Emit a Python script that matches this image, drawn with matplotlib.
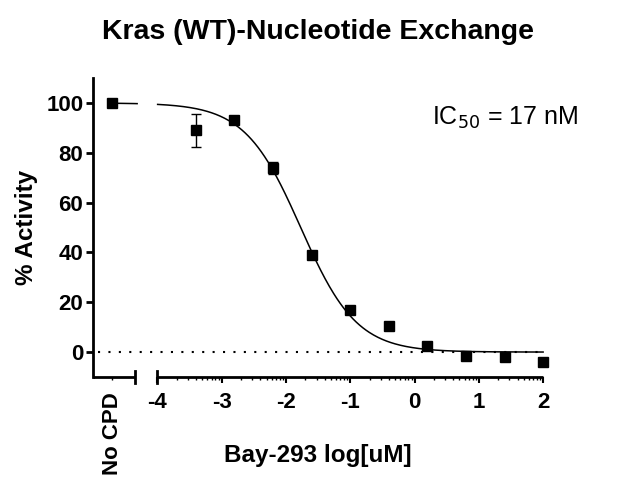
import numpy as np
import matplotlib

matplotlib.use("Agg")
import matplotlib.pyplot as plt

# Bay-293 dose response, Kras (WT) nucleotide exchange
log_conc = [-3.4, -2.8, -2.2, -1.6, -1.0, -0.4, 0.2, 0.8, 1.4, 2.0]
activity = [89.0, 93.2, 73.8, 38.8, 17.0, 10.3, 2.6, -1.5, -2.0, -3.8]
activity_err = [6.5, 0.8, 2.5, 1.0, 1.0, 1.5, 0.6, 0.6, 0.8, 0.6]
no_cpd_pos = -4.7
no_cpd_value = 100.0

# fitted 4PL parameters
fit_top = 100.0
fit_bottom = 0.0
fit_log_ic50 = -1.77
fit_hill = 1.0

x_ticks = [-4, -3, -2, -1, 0, 1, 2]
y_ticks = [0, 20, 40, 60, 80, 100]
break_left = -4.34
break_right = -4.0
x_min, x_max = -5.0, 2.0

plt.rcParams["font.family"] = ["Liberation Sans", "DejaVu Sans"]
plt.rcParams["axes.unicode_minus"] = False

fig = plt.figure(figsize=(6.2, 4.87), dpi=100)
ax = fig.add_axes([0.150, 0.2259, 0.726, 0.6139])

# fitted curve on both sides of the axis break
xs = np.linspace(no_cpd_pos, x_max, 400)
ys = fit_bottom + (fit_top - fit_bottom) / (1 + 10 ** ((xs - fit_log_ic50) * fit_hill))
ys = np.where((xs > break_left + 0.03) & (xs < break_right), np.nan, ys)
ax.plot(xs, ys, color="black", lw=1.1, clip_on=False)

ax.axhline(0, color="black", lw=1.5, linestyle=(0, (1, 4)), xmin=0.01)

ax.errorbar(log_conc, activity, yerr=activity_err, fmt="s", color="black",
            ms=7, capsize=3.5, elinewidth=1, capthick=1, clip_on=False, zorder=3)
ax.plot([no_cpd_pos], [no_cpd_value], "s", color="black", ms=7, clip_on=False, zorder=3)

ax.set_xlim(x_min, x_max)
ax.set_ylim(-10, 110)

for side in ["top", "right", "bottom"]:
    ax.spines[side].set_visible(False)
ax.spines["left"].set_linewidth(2)

# broken x axis drawn by hand
trans = ax.get_xaxis_transform()
ax.plot([x_min, break_left], [0, 0], color="black", lw=2, transform=trans, clip_on=False,
        solid_capstyle="butt")
ax.plot([break_right, x_max], [0, 0], color="black", lw=2, transform=trans, clip_on=False,
        solid_capstyle="butt")
for bx in [break_left, break_right]:
    ax.plot([bx, bx], [-0.02, 0.02], color="black", lw=2, transform=trans, clip_on=False)

minor = [d + np.log10(m) for d in range(-4, 2) for m in range(2, 10)]
ax.set_xticks(x_ticks)
ax.set_xticks(minor + [no_cpd_pos], minor=True)
ax.set_yticks(y_ticks)
ax.tick_params(axis="x", which="major", length=4, width=1.5, pad=7, labelsize=16)
ax.tick_params(axis="x", which="minor", length=2, width=1)
ax.tick_params(axis="y", length=5, width=2, pad=2, labelsize=16)
for lab in ax.get_xticklabels() + ax.get_yticklabels():
    lab.set_fontweight("bold")

ax.text(no_cpd_pos, -0.05, "No CPD", transform=trans, rotation=90, ha="center", va="top",
        fontsize=16, fontweight="bold")

ax.set_xlabel("Bay-293 log[uM]", fontsize=17.5, fontweight="bold")
ax.xaxis.set_label_coords(0.5, -0.225)
ax.set_ylabel("% Activity", fontsize=17.5, fontweight="bold", labelpad=6)
fig.text(0.513, 0.934, "Kras (WT)-Nucleotide Exchange", ha="center", va="center",
         fontsize=20.5, fontweight="bold")
ax.text(1.078, 0.866, "IC$_{50}$ = 17 nM", transform=ax.transAxes, ha="right", va="center",
        fontsize=18)

fig.savefig("out.png", dpi=100)
